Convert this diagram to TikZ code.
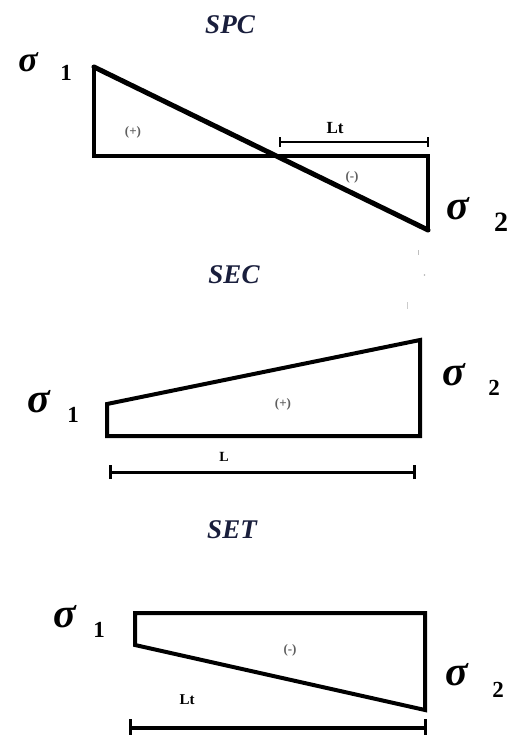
\documentclass[tikz,border=0pt]{standalone}
\usepackage{fontspec}
\setmainfont{Liberation Serif}
\definecolor{titleblue}{RGB}{25,30,60}
\definecolor{signgray}{RGB}{95,95,95}
\begin{document}
\begin{tikzpicture}[x=1pt,y=-1pt,
  shapeline/.style={line width=4pt,line join=miter,line cap=rect},
  dimline/.style={line width=3pt},
  ttl/.style={inner sep=0pt,text=titleblue,font=\fontsize{27}{27}\selectfont\bfseries\itshape},
  sig/.style={inner sep=0pt,font=\fontsize{42}{42}\selectfont\bfseries\itshape},
  idx/.style={inner sep=0pt,font=\fontsize{23}{23}\selectfont\bfseries},
  sgn/.style={inner sep=0pt,text=signgray,font=\fontsize{13}{13}\selectfont\bfseries},
  dimlbl/.style={inner sep=0pt,font=\fontsize{17}{17}\selectfont\bfseries}]
\useasboundingbox (0,0) rectangle (516,735);
\fill[white] (0,0) rectangle (516,735);

% ---------- SPC ----------
\node[ttl] (t1) at (230,25) {SPC};
\coordinate (a1) at (94,67);
\coordinate (a2) at (94,156);
\coordinate (a4) at (428,156);
\coordinate (a5) at (428,230);
\draw[shapeline] (a1) -- (a2) -- (a4) -- (a5);
\draw[line width=5pt,line cap=round] (a1) -- (a5);
\node[sig,font=\fontsize{36}{36}\selectfont\bfseries\itshape] (s11) at (28,62) {σ};
\node[idx] (n11) at (66,73) {1};
\node[sig] (s12) at (458,209) {σ};
\node[idx,font=\fontsize{28}{28}\selectfont\bfseries] (n12) at (501,222) {2};
\node[sgn] (p1) at (133,132) {(+)};
\node[sgn] (m1) at (352,177) {(-)};
\coordinate (d1a) at (280,142);
\coordinate (d1b) at (428,142);
\draw[line width=2pt] (d1a) -- (d1b);
\draw[line width=2pt] ([yshift=-5pt]d1a) -- ([yshift=5pt]d1a);
\draw[line width=2pt] ([yshift=-5pt]d1b) -- ([yshift=5pt]d1b);
\node[dimlbl] (lt1) at (335,128) {Lt};

% ---------- SEC ----------
\node[ttl] (t2) at (234,275) {SEC};
\coordinate (b1) at (107,404);
\coordinate (b2) at (107,436);
\coordinate (b3) at (420,436);
\coordinate (b4) at (420,340);
\draw[shapeline] (b1) -- (b2) -- (b3) -- (b4) -- cycle;
\node[sig] (s21) at (39,402) {σ};
\node[idx] (n21) at (73,415) {1};
\node[sig] (s22) at (454,375) {σ};
\node[idx] (n22) at (494,388) {2};
\node[sgn] (p2) at (283,404) {(+)};
\node[dimlbl,font=\fontsize{14}{14}\selectfont\bfseries] (l2) at (224,457) {L};
\coordinate (d2a) at (110,472);
\coordinate (d2b) at (414,472);
\draw[dimline] (d2a) -- (d2b);
\draw[dimline] ([yshift=-7pt]d2a) -- ([yshift=7pt]d2a);
\draw[dimline] ([yshift=-7pt]d2b) -- ([yshift=7pt]d2b);
\draw[gray!50,line width=0.8pt] (418,250) -- (418,255);
\fill[gray!60] (424.5,275) circle (0.8pt);
\draw[gray!40,line width=0.8pt] (407,302) -- (407,309);

% ---------- SET ----------
\node[ttl] (t3) at (232,530) {SET};
\coordinate (c1) at (135,613);
\coordinate (c2) at (135,645);
\coordinate (c3) at (425,710);
\coordinate (c4) at (425,613);
\draw[shapeline] (c1) -- (c2) -- (c3) -- (c4) -- cycle;
\node[sig] (s31) at (65,617) {σ};
\node[idx] (n31) at (99,630) {1};
\node[sig] (s32) at (457,675) {σ};
\node[idx] (n32) at (498,690) {2};
\node[sgn] (m3) at (290,650) {(-)};
\node[dimlbl,font=\fontsize{15}{15}\selectfont\bfseries] (lt3) at (187,700) {Lt};
\coordinate (d3a) at (130,728);
\coordinate (d3b) at (425,728);
\draw[line width=4pt] (d3a) -- (d3b);
\draw[line width=3pt] ([yshift=-7pt]d3a) -- ([yshift=9pt]d3a);
\draw[line width=3pt] ([yshift=-7pt]d3b) -- ([yshift=9pt]d3b);
\end{tikzpicture}
\end{document}
